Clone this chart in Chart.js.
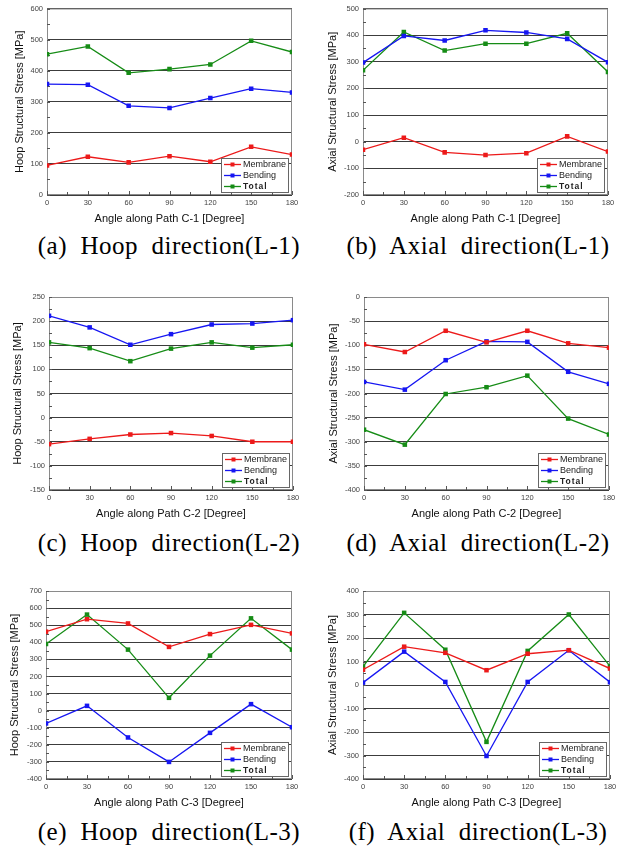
<!DOCTYPE html>
<html>
<head>
<meta charset="utf-8">
<script src="https://cdn.jsdelivr.net/npm/chart.js@4.4.1/dist/chart.umd.min.js"></script>
<style>
  body { margin: 0; background: #fff; width: 621px; height: 847px; position: relative; overflow: hidden; }
  canvas { position: absolute; }
  .cap { position: absolute; font-family: "Liberation Serif", "Times New Roman", serif; font-size: 25px;
         letter-spacing: 0.5px; color: #000; white-space: pre; transform: translate(-50%, -50%); }
</style>
</head>
<body>
<canvas id="ca"></canvas><canvas id="cb"></canvas>
<canvas id="cc"></canvas><canvas id="cd"></canvas>
<canvas id="ce"></canvas><canvas id="cf"></canvas>
<div class="cap" style="left:169px;top:246px">(a)  Hoop  direction(L-1)</div>
<div class="cap" style="left:478px;top:246px">(b)  Axial  direction(L-1)</div>
<div class="cap" style="left:169px;top:543px">(c)  Hoop  direction(L-2)</div>
<div class="cap" style="left:478px;top:543px">(d)  Axial  direction(L-2)</div>
<div class="cap" style="left:169px;top:832px">(e)  Hoop  direction(L-3)</div>
<div class="cap" style="left:478px;top:832px">(f)  Axial  direction(L-3)</div>
<script>
// angles along the path (degrees)
const angles = [0, 30, 60, 90, 120, 150, 180];
const seriesNames = ['Membrane', 'Bending', 'Total'];

// L-1
const hoopL1Membrane = [95, 123, 105, 125, 107, 155, 130];
const hoopL1Bending  = [357, 355, 287, 280, 312, 342, 330];
const hoopL1Total    = [453, 478, 393, 405, 420, 496, 460];
const axialL1Membrane = [-30, 15, -40, -50, -43, 20, -37];
const axialL1Bending  = [297, 397, 380, 418, 410, 386, 298];
const axialL1Total    = [268, 412, 342, 368, 368, 407, 262];

// L-2
const hoopL2Membrane = [-55, -44, -35, -32, -38, -50, -50];
const hoopL2Bending  = [211, 187, 151, 173, 193, 195, 202];
const hoopL2Total    = [156, 144, 117, 143, 156, 145, 151];
const axialL2Membrane = [-98, -114, -70, -94, -70, -96, -105];
const axialL2Bending  = [-176, -192, -131, -92, -93, -155, -180];
const axialL2Total    = [-275, -306, -201, -187, -163, -252, -285];

// L-3
const hoopL3Membrane = [462, 535, 510, 373, 448, 502, 452];
const hoopL3Bending  = [-75, 28, -157, -300, -130, 38, -97];
const hoopL3Total    = [390, 562, 357, 75, 322, 540, 357];
const axialL3Membrane = [65, 163, 137, 63, 133, 148, 70];
const axialL3Bending  = [10, 142, 13, -302, 13, 148, 12];
const axialL3Total    = [78, 307, 150, -242, 145, 300, 80];

const colors = ['#ec1a1a', '#1616f2', '#168c16'];

// frame around the plot + small inward ticks
const framePlugin = {
  id: 'frame',
  beforeDatasetsDraw(chart, args, opts) {
    const { ctx, chartArea: a, scales: { x, y } } = chart;
    ctx.save();
    ctx.strokeStyle = '#8a8a8a';
    ctx.lineWidth = 1;
    ctx.strokeRect(a.left + 0.5, a.top + 0.5, a.right - a.left - 1, a.bottom - a.top - 1);
    ctx.strokeStyle = '#555';
    ctx.beginPath();
    for (let v = x.min; v <= x.max; v += 15) {
      const px = Math.round(x.getPixelForValue(v)) + 0.5;
      ctx.moveTo(px, a.bottom);
      ctx.lineTo(px, a.bottom - (v % 30 ? 3 : 4));
    }
    const half = opts.step / 2;
    for (let v = y.min; v <= y.max; v += half) {
      const py = Math.round(y.getPixelForValue(v)) + 0.5;
      ctx.moveTo(a.left, py);
      ctx.lineTo(a.left + 3, py);
    }
    ctx.stroke();
    ctx.restore();
  }
};

// boxed legend in the lower right corner, line + square marker like the original
const boxLegendPlugin = {
  id: 'boxLegend',
  afterDatasetsDraw(chart) {
    const { ctx, chartArea: a } = chart;
    const w = 68, h = 35;
    const l = Math.round(a.right - 3 - w), t = Math.round(a.bottom - 2 - h);
    ctx.save();
    ctx.fillStyle = '#fff';
    ctx.fillRect(l, t, w, h);
    ctx.strokeStyle = '#666';
    ctx.lineWidth = 1;
    ctx.strokeRect(l + 0.5, t + 0.5, w - 1, h - 1);
    chart.data.datasets.forEach((ds, i) => {
      const cy = t + 6.5 + i * 11;
      ctx.strokeStyle = ds.borderColor;
      ctx.lineWidth = 1.3;
      ctx.beginPath();
      ctx.moveTo(l + 3, cy);
      ctx.lineTo(l + 20, cy);
      ctx.stroke();
      ctx.fillStyle = ds.borderColor;
      ctx.fillRect(l + 9.5, cy - 2, 4, 4);
      ctx.fillStyle = '#222';
      ctx.textBaseline = 'middle';
      if (i === 2) {
        ctx.font = 'bold 8.5px Arial';
        ctx.letterSpacing = '1px';
      } else {
        ctx.font = '9px Arial';
        ctx.letterSpacing = '0px';
      }
      ctx.fillText(ds.label, l + 22, cy + 0.5);
    });
    ctx.restore();
  }
};

function makePanel(id, box, yTitle, xTitle, min, max, step, series) {
  const canvas = document.getElementById(id);
  const W = box.w, H = box.areaB - box.top + 33;
  canvas.width = W; canvas.height = H;
  canvas.style.left = box.left + 'px';
  canvas.style.top = box.top + 'px';
  const yWidth = box.areaL - box.left;
  const padRight = W - (box.areaR - box.left);

  return new Chart(canvas, {
    type: 'line',
    data: {
      labels: angles,
      datasets: series.map((vals, i) => ({
        label: seriesNames[i],
        data: angles.map((a, k) => ({ x: a, y: vals[k] })),
        borderColor: colors[i],
        backgroundColor: colors[i],
        borderWidth: 1.3,
        pointStyle: 'rect',
        pointRadius: 3.2,
        pointBorderWidth: 0,
        tension: 0
      }))
    },
    options: {
      responsive: false,
      animation: false,
      devicePixelRatio: 1,
      layout: { padding: { top: box.areaT - box.top, right: padRight, left: 0, bottom: 0 } },
      plugins: {
        legend: { display: false },
        tooltip: { enabled: false },
        frame: { step: step }
      },
      scales: {
        x: {
          type: 'linear', min: 0, max: 180,
          ticks: { stepSize: 30, padding: 3, color: '#444', font: { family: 'Arial', size: 7.5 } },
          grid: { display: false, drawTicks: false },
          border: { display: false },
          title: { display: true, text: xTitle, color: '#111', padding: { top: 0, bottom: 2 },
                   font: { family: 'Arial', size: 11 } },
          afterFit(s) { s.height = 33; }
        },
        y: {
          min: min, max: max,
          ticks: { stepSize: step, padding: 4, color: '#444', font: { family: 'Arial', size: 7.5 } },
          grid: { color: '#3c3c3c', lineWidth: 1, drawTicks: false },
          border: { display: false },
          title: { display: true, text: yTitle, color: '#111', padding: { top: box.titleX - 6.6, bottom: 0 },
                   font: { family: 'Arial', size: 11 } },
          afterFit(s) { s.width = yWidth; }
        }
      }
    },
    plugins: [framePlugin, boxLegendPlugin]
  });
}

makePanel('ca', { left: 0, top: 0, w: 305, areaL: 47, areaT: 7, areaR: 292, areaB: 195, titleX: 20 },
  'Hoop Structural Stress [MPa]', 'Angle along Path C-1 [Degree]', 0, 600, 100,
  [hoopL1Membrane, hoopL1Bending, hoopL1Total]);
makePanel('cb', { left: 310, top: 0, w: 311, areaL: 363, areaT: 7, areaR: 608, areaB: 195, titleX: 23 },
  'Axial Structural Stress [MPa]', 'Angle along Path C-1 [Degree]', -200, 500, 100,
  [axialL1Membrane, axialL1Bending, axialL1Total]);
makePanel('cc', { left: 0, top: 275, w: 305, areaL: 49, areaT: 297, areaR: 293, areaB: 490, titleX: 18 },
  'Hoop Structural Stress [MPa]', 'Angle along Path C-2 [Degree]', -150, 250, 50,
  [hoopL2Membrane, hoopL2Bending, hoopL2Total]);
makePanel('cd', { left: 310, top: 275, w: 311, areaL: 364, areaT: 297, areaR: 609, areaB: 490, titleX: 24 },
  'Axial Structural Stress [MPa]', 'Angle along Path C-2 [Degree]', -400, 0, 50,
  [axialL2Membrane, axialL2Bending, axialL2Total]);
makePanel('ce', { left: 0, top: 565, w: 305, areaL: 46, areaT: 591, areaR: 292, areaB: 779, titleX: 15 },
  'Hoop Structural Stress [MPa]', 'Angle along Path C-3 [Degree]', -400, 700, 100,
  [hoopL3Membrane, hoopL3Bending, hoopL3Total]);
makePanel('cf', { left: 310, top: 565, w: 311, areaL: 363, areaT: 591, areaR: 610, areaB: 779, titleX: 23 },
  'Axial Structural Stress [MPa]', 'Angle along Path C-3 [Degree]', -400, 400, 100,
  [axialL3Membrane, axialL3Bending, axialL3Total]);
</script>
</body>
</html>
